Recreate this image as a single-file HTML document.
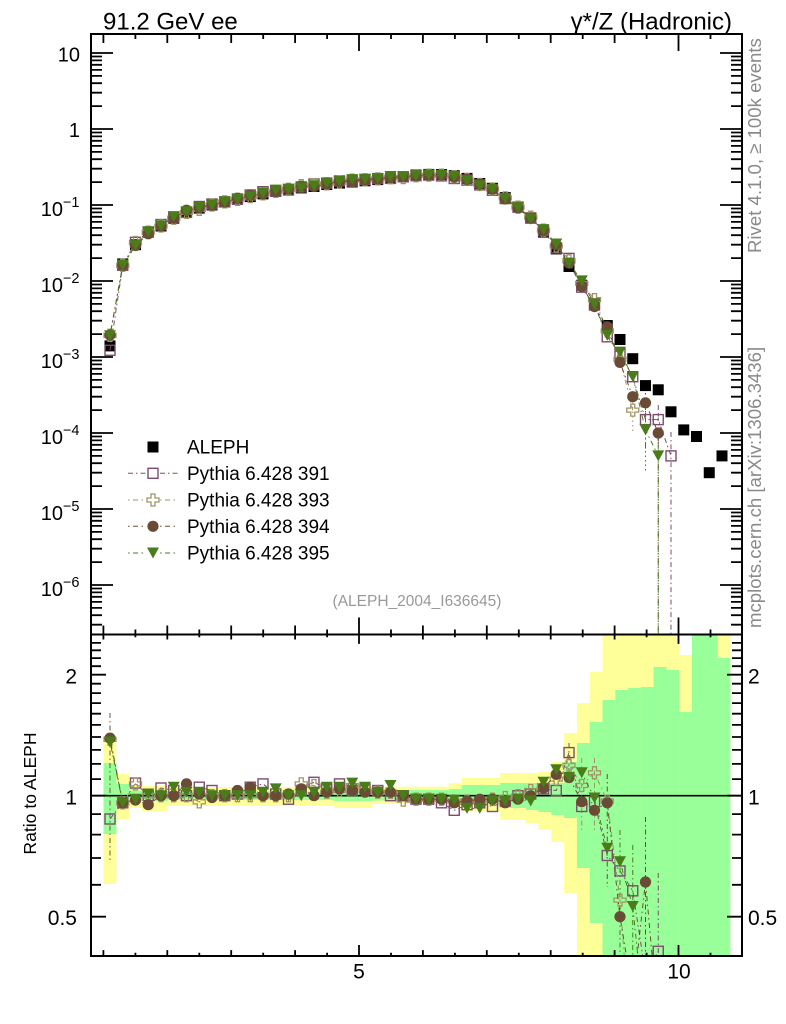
<!DOCTYPE html>
<html><head><meta charset="utf-8"><style>html,body{margin:0;padding:0;background:#fff}svg{display:block}</style></head>
<body>
<svg width="786" height="1024" viewBox="0 0 786 1024" font-family="'Liberation Sans', Arial, sans-serif">
<defs>
<clipPath id="cm"><rect x="92" y="35" width="649" height="599"/></clipPath>
<clipPath id="cr"><rect x="92" y="635.5" width="649" height="319.5"/></clipPath>
<marker id="mk" markerUnits="userSpaceOnUse" markerWidth="14" markerHeight="14" refX="7" refY="7" overflow="visible"><rect x="1.5" y="1.5" width="11" height="11" fill="#000"/></marker>
<marker id="ma" markerUnits="userSpaceOnUse" markerWidth="14" markerHeight="14" refX="7" refY="7" overflow="visible"><rect x="2" y="2" width="10" height="10" fill="none" stroke="#7d4d6e" stroke-width="1.4"/></marker>
<marker id="mb" markerUnits="userSpaceOnUse" markerWidth="14" markerHeight="14" refX="7" refY="7" overflow="visible"><path d="M5 1h4v4h4v4h-4v4h-4v-4h-4v-4h4z" fill="none" stroke="#a09464" stroke-width="1.3"/></marker>
<marker id="mc" markerUnits="userSpaceOnUse" markerWidth="14" markerHeight="14" refX="7" refY="7" overflow="visible"><circle cx="7" cy="7" r="5.6" fill="#6a4b35"/></marker>
<marker id="md" markerUnits="userSpaceOnUse" markerWidth="14" markerHeight="14" refX="7" refY="7" overflow="visible"><path d="M1 1.5h12l-6 11z" fill="#4a7d19"/></marker>
<g id="xt" stroke="#000" stroke-width="1.8" fill="none"><path d="M103.4 0v9M135.4 0v5M167.3 0v9M199.3 0v5M231.2 0v9M263.2 0v5M295.1 0v9M327.1 0v5M359 0v17M391 0v5M422.9 0v9M454.9 0v5M486.8 0v9M518.8 0v5M550.7 0v9M582.7 0v5M614.6 0v9M646.6 0v5M678.5 0v17M710.5 0v5"/></g>
<g id="yt" stroke="#000" stroke-width="1.8" fill="none">
<path d="M91 53h22M91 129h22M91 205h22M91 281h22M91 357h22M91 433h22M91 509h22M91 585h22"/>
<path d="M91 624.7h11M91 615.2h11M91 607.9h11M91 601.9h11M91 596.8h11M91 592.4h11M91 588.5h11M91 562.1h11M91 548.7h11M91 539.2h11M91 531.9h11M91 525.9h11M91 520.8h11M91 516.4h11M91 512.5h11M91 486.1h11M91 472.7h11M91 463.2h11M91 455.9h11M91 449.9h11M91 444.8h11M91 440.4h11M91 436.5h11M91 410.1h11M91 396.7h11M91 387.2h11M91 379.9h11M91 373.9h11M91 368.8h11M91 364.4h11M91 360.5h11M91 334.1h11M91 320.7h11M91 311.2h11M91 303.9h11M91 297.9h11M91 292.8h11M91 288.4h11M91 284.5h11M91 258.1h11M91 244.7h11M91 235.2h11M91 227.9h11M91 221.9h11M91 216.8h11M91 212.4h11M91 208.5h11M91 182.1h11M91 168.7h11M91 159.2h11M91 151.9h11M91 145.9h11M91 140.8h11M91 136.4h11M91 132.5h11M91 106.1h11M91 92.7h11M91 83.2h11M91 75.9h11M91 69.9h11M91 64.8h11M91 60.4h11M91 56.5h11"/>
<path d="M91 674.7h15M91 795.7h15M91 916.7h15"/>
<path d="M91 884.8h10M91 858h10M91 834.6h10M91 814.1h10M91 779.1h10M91 763.9h10M91 749.9h10M91 737h10M91 724.9h10M91 713.7h10M91 703.1h10M91 693.1h10M91 683.7h10M91 666.2h10M91 658.1h10M91 650.3h10M91 642.9h10"/>
</g>
</defs>

<!-- ratio bands -->
<g clip-path="url(#cr)">
<g fill="#ffff99">
<rect x="103.5" y="737" width="12.9" height="147"/>
<rect x="116.3" y="774" width="12.9" height="45"/>
<rect x="129.1" y="785" width="12.9" height="23"/>
<rect x="141.9" y="786" width="25.7" height="25"/>
<rect x="167.5" y="787" width="166.4" height="19"/>
<rect x="333.8" y="786" width="38.5" height="22"/>
<rect x="372.2" y="786.7" width="76.8" height="17.3"/>
<rect x="448.9" y="783" width="12.9" height="24"/>
<rect x="461.7" y="778" width="38.5" height="33"/>
<rect x="500.1" y="773" width="25.7" height="47"/>
<rect x="525.7" y="773" width="12.9" height="50"/>
<rect x="538.5" y="772" width="12.9" height="58"/>
<rect x="551.3" y="762" width="12.9" height="80"/>
<rect x="564.1" y="733" width="12.9" height="160"/>
<rect x="576.9" y="703" width="12.9" height="253"/>
<rect x="589.7" y="672" width="12.9" height="284"/>
<rect x="602.5" y="634" width="76.8" height="322"/>
<rect x="679.2" y="655" width="12.9" height="301"/>
<rect x="717.6" y="634" width="12.8" height="322"/>
</g>
<g fill="#99ff99">
<rect x="103.5" y="763" width="12.9" height="71"/>
<rect x="116.3" y="784" width="12.9" height="22"/>
<rect x="129.1" y="790.5" width="12.9" height="10.5"/>
<rect x="141.9" y="791" width="25.7" height="10"/>
<rect x="167.5" y="791.5" width="166.4" height="8.5"/>
<rect x="333.8" y="791" width="38.5" height="10"/>
<rect x="372.2" y="790" width="76.8" height="10.5"/>
<rect x="448.9" y="789" width="12.9" height="12"/>
<rect x="461.7" y="785" width="38.5" height="18"/>
<rect x="500.1" y="783" width="25.7" height="25"/>
<rect x="525.7" y="783" width="12.9" height="27"/>
<rect x="538.5" y="784" width="12.9" height="28"/>
<rect x="551.3" y="783" width="12.9" height="32"/>
<rect x="564.1" y="762" width="12.9" height="56"/>
<rect x="576.9" y="743" width="12.9" height="125"/>
<rect x="589.7" y="722" width="12.9" height="201"/>
<rect x="602.5" y="700" width="12.9" height="256"/>
<rect x="615.3" y="690" width="12.9" height="266"/>
<rect x="628.1" y="688" width="12.8" height="268"/>
<rect x="640.8" y="687" width="12.9" height="269"/>
<rect x="653.6" y="667" width="12.9" height="289"/>
<rect x="666.4" y="670" width="12.9" height="286"/>
<rect x="679.2" y="712" width="12.9" height="244"/>
<rect x="692" y="634" width="25.7" height="322"/>
<rect x="717.6" y="658" width="12.8" height="298"/>
</g>
<path d="M91 795.7H742" stroke="#000" stroke-width="1.6"/>

<!-- ratio error bars -->
<g fill="none" stroke-width="1" stroke-dasharray="5,3,1.5,3">
<path d="M110 713V860" stroke="#6a5a40"/>
<path d="M569 743V781" stroke="#7d4d6e"/>
<path d="M581.75 758V830M594.5 758V830" stroke="#a09464"/>
<path d="M607.25 774V887" stroke="#6a4b35"/>
<path d="M620 830V956M632.75 845V956" stroke="#4a7d19"/>
<path d="M645.5 817V956" stroke="#6a4b35"/>
<path d="M658.25 873V956" stroke="#7d4d6e"/>
</g>

<polyline fill="none" stroke="#7d4d6e" stroke-width="1" stroke-dasharray="5,3,1.5,3" marker-start="url(#ma)" marker-mid="url(#ma)" marker-end="url(#ma)" points="110,819 122.75,802.8 135.5,783.1 148.25,795.7 161,788 173.75,790.5 186.5,795.7 199.25,787.2 212,790.5 224.75,795.7 237.5,794 250.25,787.2 263,783.9 275.75,794 288.5,799.2 301.25,790.5 314,782.3 326.75,788.9 339.5,783.9 352.25,790.5 365,788.9 377.75,790.5 390.5,795.7 403.25,795.7 416,799.2 428.75,799.2 441.5,802.8 454.25,810.3 467,804.7 479.75,802.8 492.5,806.5 505.25,801 518,795.7 530.75,794 543.5,788.9 556.25,790.5 569,752.6 581.75,806.5 594.5,801.7 607.25,855.5 620,870.9 632.75,890.8 645.5,974 658.25,951.3 671,1030"/>
<polyline fill="none" stroke="#a09464" stroke-width="1" stroke-dasharray="1.5,3.5,5,3.5" marker-start="url(#mb)" marker-mid="url(#mb)" marker-end="url(#mb)" points="110,739.4 122.75,802.8 135.5,783.9 148.25,795.7 161,795.7 173.75,795.7 186.5,795.7 199.25,801.9 212,795.7 224.75,795.7 237.5,795.7 250.25,795.7 263,795.7 275.75,795.7 288.5,795.7 301.25,783.9 314,785.5 326.75,792.2 339.5,790.5 352.25,785.5 365,790.5 377.75,792.2 390.5,792.2 403.25,800.1 416,799.2 428.75,799.2 441.5,799.2 454.25,801 467,801 479.75,801 492.5,799.2 505.25,797.5 518,795.7 530.75,790.5 543.5,785.5 556.25,779.1 569,765.3 581.75,785.5 594.5,772.8 607.25,801 620,900.1 632.75,1068"/>
<polyline fill="none" stroke="#6a4b35" stroke-width="1" stroke-dasharray="1.5,3.5,5,3.5" marker-start="url(#mc)" marker-mid="url(#mc)" marker-end="url(#mc)" points="110,738.2 122.75,802.8 135.5,800.1 148.25,804.7 161,795.7 173.75,795.7 186.5,783.9 199.25,794 212,797.5 224.75,795.7 237.5,790.5 250.25,787.2 263,795.7 275.75,795.7 288.5,794 301.25,788.9 314,795.7 326.75,792.2 339.5,788.9 352.25,790.5 365,792.2 377.75,792.2 390.5,792.2 403.25,795.7 416,799.2 428.75,799.2 441.5,799.2 454.25,802.8 467,801 479.75,799.2 492.5,799.2 505.25,802.8 518,799.2 530.75,795.7 543.5,788 556.25,774.4 569,777.5 581.75,801.7 594.5,810.3 607.25,802.8 620,916.7 632.75,994.7 645.5,882 658.25,1024"/>
<polyline fill="none" stroke="#4a7d19" stroke-width="1" stroke-dasharray="1.5,3.5,5,3.5" marker-start="url(#md)" marker-mid="url(#md)" marker-end="url(#md)" points="110,742 122.75,802.8 135.5,799.2 148.25,794 161,795.7 173.75,787.2 186.5,792.2 199.25,792.2 212,795.7 224.75,795.7 237.5,795.7 250.25,795.7 263,792.2 275.75,788.9 288.5,795.7 301.25,795.7 314,792.2 326.75,787.2 339.5,787.2 352.25,783.1 365,787.2 377.75,792.2 390.5,785.5 403.25,795.7 416,799.2 428.75,799.2 441.5,799.2 454.25,800.1 467,808.4 479.75,808.4 492.5,801 505.25,801 518,799.2 530.75,801 543.5,782.3 556.25,769.8 569,777.5 581.75,772.8 594.5,798 607.25,848.3 620,861.7 632.75,906.5 645.5,1030"/>
</g>

<!-- main plot -->
<g clip-path="url(#cm)">
<polyline fill="none" stroke="none" marker-start="url(#mk)" marker-mid="url(#mk)" marker-end="url(#mk)" points="110,345.9 122.75,263.9 135.5,244.7 148.25,232.1 161,226 173.75,218.2 186.5,212.4 199.25,208.1 212,205 224.75,201.9 237.5,199.3 250.25,196.6 263,193.9 275.75,191.4 288.5,189.3 301.25,187.9 314,186.5 326.75,184.5 339.5,183.1 352.25,182 365,180.8 377.75,179.6 390.5,178.4 403.25,176.8 416,175 428.75,174.4 441.5,174.5 454.25,175.7 467,178.4 479.75,183.5 492.5,188.3 505.25,197.6 518,207.1 530.75,218.2 543.5,232.1 556.25,248.9 569,266.5 581.75,285.2 594.5,303.9 607.25,325.5 620,339.5 632.75,358.7 645.5,385.6 658.25,389.8 671,411.8 683.75,429.9 696.5,436.5 709.25,472.7 722,455.9"/>
<g fill="none" stroke-width="1">
<path d="M645.5 405V450M658.25 405V420M671 432V456" stroke="#7d4d6e" stroke-dasharray="5,3,1.5,3"/>
<path d="M632.75 398V434" stroke="#a09464" stroke-dasharray="1.5,3"/>
<path d="M645.5 393V450M658.25 415V456" stroke="#6a4b35" stroke-dasharray="1.5,3"/>
<path d="M645.5 415V473M658.25 430V456" stroke="#4a7d19" stroke-dasharray="1.5,3"/>
</g>
<polyline fill="none" stroke="#7d4d6e" stroke-width="1" stroke-dasharray="5,3,1.5,3" marker-start="url(#ma)" marker-mid="url(#ma)" marker-end="url(#ma)" points="110,350.3 122.75,265.3 135.5,242.3 148.25,232.1 161,224.5 173.75,217.2 186.5,212.4 199.25,206.5 212,204 224.75,201.9 237.5,199 250.25,195 263,191.7 275.75,191.1 288.5,190 301.25,186.9 314,184 326.75,183.2 339.5,180.9 352.25,181 365,179.5 377.75,178.6 390.5,178.4 403.25,176.8 416,175.7 428.75,175.1 441.5,175.9 454.25,178.5 467,180.1 479.75,184.9 492.5,190.3 505.25,198.6 518,207.1 530.75,217.9 543.5,230.8 556.25,247.9 569,258.4 581.75,287.2 594.5,305 607.25,336.8 620,353.7 632.75,376.7 645.5,419.6 658.25,419.6 671,455.9 671,700"/>
<polyline fill="none" stroke="#a09464" stroke-width="1" stroke-dasharray="1.5,3.5,5,3.5" marker-start="url(#mb)" marker-mid="url(#mb)" marker-end="url(#mb)" points="110,335.3 122.75,265.3 135.5,242.5 148.25,232.1 161,226 173.75,218.2 186.5,212.4 199.25,209.3 212,205 224.75,201.9 237.5,199.3 250.25,196.6 263,193.9 275.75,191.4 288.5,189.3 301.25,185.7 314,184.6 326.75,183.8 339.5,182.1 352.25,180.1 365,179.8 377.75,178.9 390.5,177.7 403.25,177.6 416,175.7 428.75,175.1 441.5,175.2 454.25,176.7 467,179.4 479.75,184.5 492.5,189 505.25,197.9 518,207.1 530.75,217.2 543.5,230.2 556.25,246 569,260.8 581.75,283.3 594.5,299.6 607.25,330.9 620,359.2 632.75,410.1"/>
<polyline fill="none" stroke="#6a4b35" stroke-width="1" stroke-dasharray="1.5,3.5,5,3.5" marker-start="url(#mc)" marker-mid="url(#mc)" marker-end="url(#mc)" points="110,335 122.75,265.3 135.5,245.5 148.25,233.8 161,226 173.75,218.2 186.5,210.2 199.25,207.8 212,205.3 224.75,201.9 237.5,198.3 250.25,195 263,193.9 275.75,191.4 288.5,189 301.25,186.4 314,186.5 326.75,183.8 339.5,181.6 352.25,181 365,180.1 377.75,178.9 390.5,177.7 403.25,176.8 416,175.7 428.75,175.1 441.5,175.2 454.25,177.1 467,179.4 479.75,184.2 492.5,189 505.25,199 518,207.8 530.75,218.2 543.5,230.6 556.25,244.9 569,263.1 581.75,286.3 594.5,306.6 607.25,326.9 620,362.4 632.75,396.7 645.5,402.8 658.25,433 658.25,700"/>
<polyline fill="none" stroke="#4a7d19" stroke-width="1" stroke-dasharray="1.5,3.5,5,3.5" marker-start="url(#md)" marker-mid="url(#md)" marker-end="url(#md)" points="110,335.8 122.75,265.3 135.5,245.4 148.25,231.8 161,226 173.75,216.6 186.5,211.7 199.25,207.4 212,205 224.75,201.9 237.5,199.3 250.25,196.6 263,193.2 275.75,190.1 288.5,189.3 301.25,187.9 314,185.8 326.75,182.9 339.5,181.5 352.25,179.6 365,179.2 377.75,178.9 390.5,176.5 403.25,176.8 416,175.7 428.75,175.1 441.5,175.2 454.25,176.5 467,180.8 479.75,185.9 492.5,189.3 505.25,198.6 518,207.8 530.75,219.2 543.5,229.6 556.25,244 569,263.1 581.75,280.9 594.5,304.3 607.25,335.4 620,352.1 632.75,376.7 645.5,429.9 658.25,455.9 658.25,700"/>
</g>

<!-- frames and ticks -->
<rect x="91" y="34" width="651" height="600.5" fill="none" stroke="#000" stroke-width="2"/>
<rect x="91" y="634.5" width="651" height="321.5" fill="none" stroke="#000" stroke-width="2"/>
<use href="#xt" transform="translate(0,34)"/>
<use href="#xt" transform="translate(0,634.5) scale(1,-1)"/>
<use href="#xt" transform="translate(0,634.5) scale(1,0.55)"/>
<use href="#xt" transform="translate(0,956) scale(1,-0.65)"/>
<use href="#yt"/>
<use href="#yt" transform="translate(833,0) scale(-1,1)"/>

<!-- titles -->
<text x="103" y="29.5" font-size="24" fill="#000">91.2 GeV ee</text>
<text x="732" y="29.5" font-size="24" fill="#000" text-anchor="end">γ*/Z (Hadronic)</text>

<!-- main y labels -->
<g font-size="20" fill="#000" text-anchor="end">
<text x="80" y="61.5">10</text>
<text x="80" y="137">1</text>
<text x="79.5" y="216">10<tspan font-size="14.5" dy="-9">−1</tspan></text>
<text x="79.5" y="292">10<tspan font-size="14.5" dy="-9">−2</tspan></text>
<text x="79.5" y="368">10<tspan font-size="14.5" dy="-9">−3</tspan></text>
<text x="79.5" y="444">10<tspan font-size="14.5" dy="-9">−4</tspan></text>
<text x="79.5" y="520">10<tspan font-size="14.5" dy="-9">−5</tspan></text>
<text x="79.5" y="596">10<tspan font-size="14.5" dy="-9">−6</tspan></text>
</g>

<!-- ratio labels -->
<g font-size="21" fill="#000">
<text x="77" y="683.5" text-anchor="end">2</text>
<text x="77" y="804.5" text-anchor="end">1</text>
<text x="77" y="925" text-anchor="end">0.5</text>
<text x="748" y="683.5">2</text>
<text x="748" y="804.5">1</text>
<text x="748" y="925">0.5</text>
<text x="359" y="978.5" text-anchor="middle">5</text>
<text x="679" y="978.5" text-anchor="middle">10</text>
</g>
<text transform="translate(36,793.5) rotate(-90)" font-size="17.6" text-anchor="middle" fill="#000">Ratio to ALEPH</text>

<!-- side texts -->
<text transform="translate(761,253) rotate(-90)" font-size="18.6" fill="#8a8a8a">Rivet 4.1.0, ≥ 100k events</text>
<text transform="translate(761,628) rotate(-90)" font-size="18.6" fill="#8a8a8a">mcplots.cern.ch [arXiv:1306.3436]</text>
<text x="417" y="606" font-size="15.5" fill="#999" text-anchor="middle">(ALEPH_2004_I636645)</text>

<!-- legend -->
<rect x="147.5" y="441.5" width="11" height="11" fill="#000"/>
<path d="M128 473.3H146M160 473.3H178" stroke="#7d4d6e" stroke-width="1" stroke-dasharray="5,3,1.5,3" fill="none"/>
<rect x="148" y="468.3" width="10" height="10" fill="#fff" stroke="#7d4d6e" stroke-width="1.4"/>
<path d="M128 500H146M160 500H178" stroke="#a09464" stroke-width="1" stroke-dasharray="1.5,3.5,5,3.5" fill="none"/>
<path d="M151 494h4v4h4v4h-4v4h-4v-4h-4v-4h4z" fill="#fff" stroke="#a09464" stroke-width="1.3"/>
<path d="M128 526.3H146M160 526.3H178" stroke="#6a4b35" stroke-width="1" stroke-dasharray="1.5,3.5,5,3.5" fill="none"/>
<circle cx="153" cy="526.3" r="5.6" fill="#6a4b35"/>
<path d="M128 553H146M160 553H178" stroke="#4a7d19" stroke-width="1" stroke-dasharray="1.5,3.5,5,3.5" fill="none"/>
<path d="M147 547.5h12l-6 11z" fill="#4a7d19"/>
<g font-size="19" fill="#000">
<text x="187" y="453.5">ALEPH</text>
<text x="187" y="480">Pythia 6.428 391</text>
<text x="187" y="506.5">Pythia 6.428 393</text>
<text x="187" y="533">Pythia 6.428 394</text>
<text x="187" y="559.5">Pythia 6.428 395</text>
</g>
</svg>
</body></html>
